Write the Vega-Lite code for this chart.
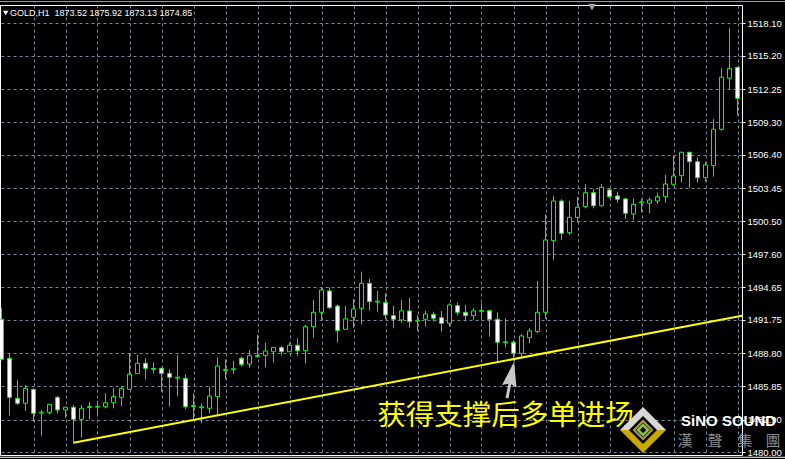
{
  "$schema": "https://vega.github.io/schema/vega-lite/v6.json",
  "width": 742,
  "height": 450,
  "autosize": {"type": "none"},
  "padding": {"left": 0, "top": 5, "right": 43, "bottom": 4},
  "background": "black",
  "config": {
    "view": {"stroke": "white", "strokeWidth": 1, "fill": "black"}
  },
  "datasets": {
    "candles": [
      {"t": 0, "open": 1491.81, "high": 1492.79, "low": 1488.15, "close": 1488.26},
      {"t": 1, "open": 1488.35, "high": 1488.73, "low": 1483.25, "close": 1484.88},
      {"t": 2, "open": 1484.79, "high": 1486.42, "low": 1484.20, "close": 1484.35},
      {"t": 3, "open": 1484.35, "high": 1485.98, "low": 1483.67, "close": 1485.68},
      {"t": 4, "open": 1485.59, "high": 1485.65, "low": 1482.72, "close": 1483.46},
      {"t": 5, "open": 1483.48, "high": 1483.76, "low": 1481.47, "close": 1483.56},
      {"t": 6, "open": 1483.55, "high": 1484.30, "low": 1483.37, "close": 1484.26},
      {"t": 7, "open": 1484.88, "high": 1485.00, "low": 1483.46, "close": 1483.76},
      {"t": 8, "open": 1483.76, "high": 1484.05, "low": 1483.07, "close": 1484.00},
      {"t": 9, "open": 1484.00, "high": 1484.20, "low": 1480.80, "close": 1482.93},
      {"t": 10, "open": 1482.93, "high": 1484.20, "low": 1481.30, "close": 1483.91},
      {"t": 11, "open": 1483.98, "high": 1484.47, "low": 1482.93, "close": 1484.06},
      {"t": 12, "open": 1484.01, "high": 1484.55, "low": 1483.22, "close": 1484.09},
      {"t": 13, "open": 1484.05, "high": 1485.24, "low": 1483.91, "close": 1484.40},
      {"t": 14, "open": 1484.40, "high": 1485.74, "low": 1483.91, "close": 1484.94},
      {"t": 15, "open": 1484.88, "high": 1485.89, "low": 1484.11, "close": 1485.68},
      {"t": 16, "open": 1485.59, "high": 1488.73, "low": 1485.55, "close": 1486.93},
      {"t": 17, "open": 1486.98, "high": 1488.64, "low": 1486.95, "close": 1487.90},
      {"t": 18, "open": 1487.90, "high": 1488.35, "low": 1486.48, "close": 1487.46},
      {"t": 19, "open": 1487.36, "high": 1487.99, "low": 1487.01, "close": 1487.44},
      {"t": 20, "open": 1487.46, "high": 1487.50, "low": 1485.38, "close": 1487.01},
      {"t": 21, "open": 1487.01, "high": 1487.37, "low": 1484.05, "close": 1486.66},
      {"t": 22, "open": 1486.58, "high": 1488.64, "low": 1485.00, "close": 1486.66},
      {"t": 23, "open": 1486.57, "high": 1486.93, "low": 1483.82, "close": 1484.05},
      {"t": 24, "open": 1484.07, "high": 1485.24, "low": 1482.93, "close": 1484.15},
      {"t": 25, "open": 1483.96, "high": 1484.35, "low": 1482.57, "close": 1484.04},
      {"t": 26, "open": 1483.91, "high": 1485.82, "low": 1483.46, "close": 1485.00},
      {"t": 27, "open": 1484.94, "high": 1488.43, "low": 1483.16, "close": 1487.66},
      {"t": 28, "open": 1487.27, "high": 1488.26, "low": 1486.48, "close": 1487.35},
      {"t": 29, "open": 1487.33, "high": 1488.11, "low": 1486.95, "close": 1487.41},
      {"t": 30, "open": 1488.35, "high": 1488.49, "low": 1487.60, "close": 1487.81},
      {"t": 31, "open": 1487.84, "high": 1489.08, "low": 1487.51, "close": 1488.58},
      {"t": 32, "open": 1488.51, "high": 1490.41, "low": 1488.43, "close": 1488.59},
      {"t": 33, "open": 1488.61, "high": 1489.73, "low": 1487.55, "close": 1488.99},
      {"t": 34, "open": 1488.93, "high": 1489.35, "low": 1487.96, "close": 1489.32},
      {"t": 35, "open": 1489.29, "high": 1489.44, "low": 1488.61, "close": 1488.93},
      {"t": 36, "open": 1488.93, "high": 1489.73, "low": 1488.90, "close": 1489.50},
      {"t": 37, "open": 1489.50, "high": 1490.12, "low": 1488.55, "close": 1489.02},
      {"t": 38, "open": 1489.02, "high": 1491.30, "low": 1487.90, "close": 1491.15},
      {"t": 39, "open": 1491.15, "high": 1493.52, "low": 1490.17, "close": 1492.43},
      {"t": 40, "open": 1492.43, "high": 1494.65, "low": 1491.75, "close": 1494.41},
      {"t": 41, "open": 1494.32, "high": 1494.65, "low": 1492.72, "close": 1492.84},
      {"t": 42, "open": 1492.99, "high": 1493.14, "low": 1489.73, "close": 1490.80},
      {"t": 43, "open": 1490.92, "high": 1492.99, "low": 1490.90, "close": 1491.84},
      {"t": 44, "open": 1491.99, "high": 1493.61, "low": 1491.06, "close": 1492.72},
      {"t": 45, "open": 1492.79, "high": 1496.03, "low": 1491.36, "close": 1495.00},
      {"t": 46, "open": 1495.00, "high": 1495.39, "low": 1492.57, "close": 1493.37},
      {"t": 47, "open": 1493.33, "high": 1494.32, "low": 1492.48, "close": 1493.41},
      {"t": 48, "open": 1493.28, "high": 1494.12, "low": 1491.81, "close": 1492.19},
      {"t": 49, "open": 1492.13, "high": 1492.99, "low": 1491.01, "close": 1491.81},
      {"t": 50, "open": 1491.75, "high": 1493.52, "low": 1491.51, "close": 1492.55},
      {"t": 51, "open": 1492.55, "high": 1493.73, "low": 1491.06, "close": 1491.60},
      {"t": 52, "open": 1491.64, "high": 1492.19, "low": 1490.77, "close": 1491.72},
      {"t": 53, "open": 1491.81, "high": 1492.55, "low": 1491.15, "close": 1492.28},
      {"t": 54, "open": 1492.25, "high": 1492.48, "low": 1491.60, "close": 1491.90},
      {"t": 55, "open": 1491.95, "high": 1492.55, "low": 1490.71, "close": 1491.45},
      {"t": 56, "open": 1491.45, "high": 1493.23, "low": 1491.15, "close": 1493.08},
      {"t": 57, "open": 1493.02, "high": 1493.32, "low": 1492.13, "close": 1492.43},
      {"t": 58, "open": 1492.43, "high": 1493.08, "low": 1491.60, "close": 1492.13},
      {"t": 59, "open": 1492.13, "high": 1492.79, "low": 1491.75, "close": 1492.55},
      {"t": 60, "open": 1492.51, "high": 1493.23, "low": 1491.81, "close": 1492.59},
      {"t": 61, "open": 1492.57, "high": 1492.60, "low": 1490.26, "close": 1491.81},
      {"t": 62, "open": 1491.81, "high": 1492.43, "low": 1487.97, "close": 1489.77},
      {"t": 63, "open": 1489.73, "high": 1491.90, "low": 1489.29, "close": 1489.81},
      {"t": 64, "open": 1489.77, "high": 1489.97, "low": 1488.13, "close": 1488.79},
      {"t": 65, "open": 1488.79, "high": 1490.48, "low": 1488.49, "close": 1490.33},
      {"t": 66, "open": 1490.17, "high": 1491.01, "low": 1489.68, "close": 1490.77},
      {"t": 67, "open": 1490.71, "high": 1495.21, "low": 1490.57, "close": 1492.43},
      {"t": 68, "open": 1492.43, "high": 1501.13, "low": 1491.84, "close": 1498.85},
      {"t": 69, "open": 1498.79, "high": 1502.76, "low": 1497.07, "close": 1502.31},
      {"t": 70, "open": 1502.31, "high": 1502.46, "low": 1498.85, "close": 1499.44},
      {"t": 71, "open": 1499.50, "high": 1502.31, "low": 1499.29, "close": 1500.86},
      {"t": 72, "open": 1500.86, "high": 1502.69, "low": 1500.42, "close": 1501.75},
      {"t": 73, "open": 1501.81, "high": 1503.82, "low": 1501.66, "close": 1503.05},
      {"t": 74, "open": 1503.05, "high": 1503.38, "low": 1501.66, "close": 1501.89},
      {"t": 75, "open": 1501.89, "high": 1503.82, "low": 1501.80, "close": 1503.53},
      {"t": 76, "open": 1503.29, "high": 1503.44, "low": 1502.55, "close": 1502.69},
      {"t": 77, "open": 1502.76, "high": 1503.14, "low": 1502.16, "close": 1502.46},
      {"t": 78, "open": 1502.49, "high": 1502.61, "low": 1500.71, "close": 1501.22},
      {"t": 79, "open": 1501.16, "high": 1502.55, "low": 1500.63, "close": 1502.02},
      {"t": 80, "open": 1502.16, "high": 1502.49, "low": 1501.31, "close": 1502.24},
      {"t": 81, "open": 1502.11, "high": 1502.61, "low": 1501.22, "close": 1502.40},
      {"t": 82, "open": 1502.31, "high": 1503.05, "low": 1502.05, "close": 1502.69},
      {"t": 83, "open": 1502.69, "high": 1504.62, "low": 1502.16, "close": 1503.82},
      {"t": 84, "open": 1503.79, "high": 1506.33, "low": 1503.64, "close": 1504.53},
      {"t": 85, "open": 1504.56, "high": 1506.66, "low": 1503.94, "close": 1506.64},
      {"t": 86, "open": 1506.64, "high": 1506.66, "low": 1503.49, "close": 1505.80},
      {"t": 87, "open": 1505.80, "high": 1506.19, "low": 1503.94, "close": 1504.38},
      {"t": 88, "open": 1504.38, "high": 1505.80, "low": 1504.03, "close": 1505.51},
      {"t": 89, "open": 1505.45, "high": 1509.59, "low": 1504.47, "close": 1508.68},
      {"t": 90, "open": 1508.68, "high": 1514.09, "low": 1508.55, "close": 1513.30},
      {"t": 91, "open": 1513.21, "high": 1517.65, "low": 1512.23, "close": 1514.09},
      {"t": 92, "open": 1514.18, "high": 1514.20, "low": 1509.89, "close": 1511.43}
    ],
    "trend": [
      {"t": 9, "price": 1480.85},
      {"t": 92.5625, "price": 1492.13}
    ],
    "frameLines": [
      {"t": -0.1875, "t2": 97.94, "price": 1479.56, "kind": "bottom"},
      {"t": -0.1875, "t2": 97.94, "price": 1520.02, "kind": "top"}
    ],
    "logoChars": [
      {"t": 85.44, "price": 1480.98, "ch": "漢"},
      {"t": 89.19, "price": 1480.98, "ch": "聲"},
      {"t": 92.94, "price": 1480.98, "ch": "集"},
      {"t": 96.44, "price": 1480.98, "ch": "團"}
    ]
  },
  "encoding": {
    "x": {
      "field": "t", "type": "quantitative",
      "scale": {"domain": [-0.1875, 92.5625], "nice": false, "zero": false, "padding": 0},
      "axis": {
        "values": [4, 8, 12, 16, 20, 24, 28, 32, 36, 40, 44, 48, 52, 56, 60, 64, 68, 72, 76, 80, 84, 88, 92],
        "grid": true, "gridColor": "#778899", "gridDash": [3, 3], "gridWidth": 1,
        "labels": false, "ticks": false, "domain": false, "title": null
      }
    },
    "y": {
      "type": "quantitative",
      "scale": {"domain": [1479.76, 1519.71], "nice": false, "zero": false, "padding": 0},
      "axis": {
        "orient": "right",
        "values": [1480.00, 1482.90, 1485.85, 1488.80, 1491.75, 1494.65, 1497.60, 1500.50, 1503.45, 1506.40, 1509.30, 1512.25, 1515.20, 1518.10],
        "format": ".2f",
        "grid": true, "gridColor": "#778899", "gridDash": [3, 3], "gridWidth": 1,
        "domain": false, "ticks": true, "tickColor": "white", "tickSize": 3,
        "labelColor": "white", "labelFont": "Liberation Sans", "labelFontSize": 9.5,
        "labelPadding": 2, "labelOverlap": false, "labelFlush": false, "labelBound": false,
        "title": null
      }
    }
  },
  "layer": [
    {
      "data": {"name": "candles"},
      "mark": {"type": "rule", "color": "#00ff00", "strokeWidth": 1},
      "encoding": {
        "y": {"field": "low"},
        "y2": {"field": "high"}
      }
    },
    {
      "data": {"name": "candles"},
      "mark": {"type": "bar", "size": 4, "stroke": "#00ff00", "strokeWidth": 1},
      "encoding": {
        "y": {"field": "open"},
        "y2": {"field": "close"},
        "fill": {"condition": {"test": "datum.close < datum.open", "value": "white"}, "value": "black"}
      }
    },
    {
      "data": {"name": "trend"},
      "mark": {"type": "line", "color": "#ffff00", "strokeWidth": 2, "clip": true},
      "encoding": {
        "y": {"field": "price"}
      }
    },
    {
      "data": {"name": "frameLines"},
      "mark": {"type": "rule", "strokeWidth": 1},
      "encoding": {
        "x2": {"field": "t2"},
        "y": {"field": "price"},
        "color": {"condition": {"test": "datum.kind === 'top'", "value": "#9a9a9a"}, "value": "white"},
        "strokeWidth": {"condition": {"test": "datum.kind === 'top'", "value": 3}, "value": 1}
      }
    },
    {
      "data": {"values": [{"t": 0.525, "price": 1519.0}]},
      "mark": {"type": "point", "shape": "triangle-down", "size": 30, "filled": true, "color": "white", "opacity": 1},
      "encoding": {
        "y": {"field": "price"}
      }
    },
    {
      "data": {"values": [{"t": 73.81, "price": 1519.53}]},
      "mark": {"type": "point", "shape": "triangle-down", "size": 60, "filled": true, "color": "#a0a0a0", "opacity": 1},
      "encoding": {
        "y": {"field": "price"}
      }
    },
    {
      "data": {"values": [{"t": 1.0625, "price": 1518.96, "label": "GOLD,H1 \u00a01873.52 1875.92 1873.13 1874.85"}]},
      "mark": {"type": "text", "align": "left", "baseline": "middle", "font": "Liberation Sans", "fontSize": 9, "color": "white"},
      "encoding": {
        "y": {"field": "price"},
        "text": {"field": "label"}
      }
    },
    {
      "data": {"values": [{"t": 63.0, "price": 1483.18, "label": "获得支撑后多单进场"}]},
      "mark": {"type": "text", "align": "center", "baseline": "middle", "font": "Noto Sans CJK SC", "fontSize": 28.5, "color": "#ffff00"},
      "encoding": {
        "y": {"field": "price"},
        "text": {"field": "label"}
      }
    },
    {
      "data": {"values": [{"t": 63.63, "price": 1486.42}]},
      "mark": {"type": "point", "shape": "M0,-1L0.4,0.35L0.08,0.22L0.08,1L-0.08,1L-0.08,0.22L-0.4,0.35Z", "size": 1369, "angle": 11, "filled": true, "color": "#c8c8c8", "opacity": 1},
      "encoding": {
        "y": {"field": "price"}
      }
    },
    {
      "data": {"values": [{"t": 80.19, "price": 1481.98}]},
      "encoding": {
        "y": {"field": "price"}
      },
      "layer": [
        {"mark": {"type": "point", "shape": "M-1,0L0,-1L1,0Z", "size": 2116, "filled": true, "color": "#d8d8d8", "opacity": 1}},
        {"mark": {"type": "point", "shape": "M-1,0L0,1L1,0Z", "size": 2116, "filled": true, "color": "#c9a800", "opacity": 1}},
        {"mark": {"type": "point", "shape": "diamond", "size": 784, "filled": true, "color": "black", "opacity": 1}},
        {"mark": {"type": "point", "shape": "diamond", "size": 324, "filled": false, "color": "#a89a50", "strokeWidth": 2, "opacity": 1}},
        {"mark": {"type": "point", "shape": "diamond", "size": 100, "filled": false, "color": "#8bc34a", "strokeWidth": 2.5, "opacity": 1}}
      ]
    },
    {
      "data": {"values": [{"t": 90.88, "price": 1482.8, "label": "SiNO SOUND"}]},
      "mark": {"type": "text", "align": "center", "baseline": "middle", "font": "Liberation Sans", "fontWeight": "bold", "fontSize": 15, "color": "white"},
      "encoding": {
        "y": {"field": "price"},
        "text": {"field": "label"}
      }
    },
    {
      "data": {"name": "logoChars"},
      "mark": {"type": "text", "align": "center", "baseline": "middle", "font": "Noto Sans CJK TC", "fontSize": 15, "color": "#8a8a8a"},
      "encoding": {
        "y": {"field": "price"},
        "text": {"field": "ch"}
      }
    }
  ]
}
